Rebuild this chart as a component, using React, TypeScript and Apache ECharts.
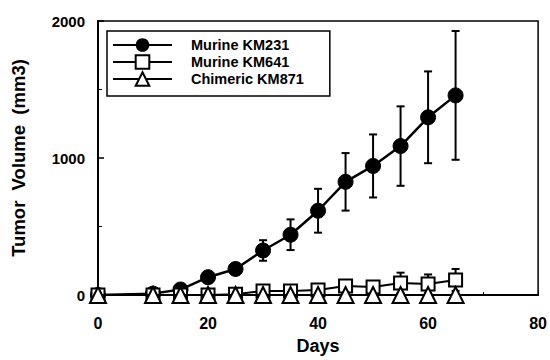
import React, { useEffect, useRef } from "react";
import * as echarts from "echarts";

const days = [0, 10, 15, 20, 25, 30, 35, 40, 45, 50, 55, 60, 65];
const km231 = [0, 10, 40, 130, 190, 325, 440, 615, 826, 942, 1087, 1297, 1457];
const km231Err = [0, 0, 10, 25, 40, 75, 112, 160, 210, 230, 290, 335, 470];
const km641 = [0, 0, 0, 0, 5, 30, 30, 36, 66, 58, 88, 80, 110];
const km641Err = [0, 0, 0, 0, 0, 0, 0, 0, 0, 0, 75, 70, 80];
const km871 = [0, 0, 0, 0, 0, 0, 0, 0, 0, 0, 0, 0, 0];
const seriesNames = ["Murine KM231", "Murine KM641", "Chimeric KM871"];
const xTicks = [0, 20, 40, 60, 80];
const yTicks = [0, 1000, 2000];

const FONT = "Liberation Sans, Arial, sans-serif";

function errData(vals: number[], errs: number[]) {
  return days
    .map((d, i) => [d, vals[i] - errs[i], vals[i] + errs[i], errs[i]])
    .filter((r) => r[3] > 0);
}

function errRender(params: any, api: any) {
  const x = api.value(0);
  const lo = api.coord([x, api.value(1)]);
  const hi = api.coord([x, api.value(2)]);
  const cap = 4;
  const style = { stroke: "#000", lineWidth: 2 };
  return {
    type: "group",
    children: [
      { type: "line", shape: { x1: lo[0], y1: lo[1], x2: hi[0], y2: hi[1] }, style },
      { type: "line", shape: { x1: hi[0] - cap, y1: hi[1], x2: hi[0] + cap, y2: hi[1] }, style },
      { type: "line", shape: { x1: lo[0] - cap, y1: lo[1], x2: lo[0] + cap, y2: lo[1] }, style },
    ],
  };
}

export default function App() {
  const ref = useRef<HTMLDivElement>(null);
  useEffect(() => {
    if (!ref.current) return;
    const chart = echarts.init(ref.current, undefined, { renderer: "svg" });
    chart.setOption({
      animation: false,
      backgroundColor: "#fff",
      grid: {
        left: 98,
        right: 9,
        top: 21,
        bottom: 63,
        show: true,
        borderColor: "#000",
        borderWidth: 1.5,
        backgroundColor: "transparent",
      },
      legend: {
        orient: "vertical",
        left: 107,
        top: 31,
        itemWidth: 59,
        itemHeight: 17,
        itemGap: 1,
        padding: [6, 26, 9, 5],
        borderColor: "#000",
        borderWidth: 1.5,
        backgroundColor: "#fff",
        data: seriesNames,
        textStyle: {
          fontFamily: FONT,
          fontWeight: "bold",
          fontSize: 14.5,
          lineHeight: 16,
          color: "#000",
          padding: [0, 0, 0, 14],
        },
      },
      xAxis: {
        type: "value",
        min: 0,
        max: 80,
        interval: 20,
        name: "Days",
        nameLocation: "middle",
        nameGap: 42,
        nameTextStyle: { fontFamily: FONT, fontWeight: "bold", fontSize: 18, color: "#000" },
        axisLine: { lineStyle: { color: "#000", width: 2 } },
        axisTick: { inside: true, length: 4, lineStyle: { color: "#000" } },
        minorTick: { show: true, splitNumber: 2, length: 3, lineStyle: { color: "#000" } },
        splitLine: { show: false },
        axisLabel: {
          margin: 20,
          fontFamily: FONT,
          fontWeight: "bold",
          fontSize: 16,
          color: "#000",
          customValues: xTicks,
          formatter: (v: number) => String(v),
        },
      },
      yAxis: {
        type: "value",
        min: 0,
        max: 2000,
        interval: 1000,
        name: "Tumor  Volume  (mm3)",
        nameLocation: "middle",
        nameGap: 70,
        nameTextStyle: { fontFamily: FONT, fontWeight: "bold", fontSize: 18.5, color: "#000" },
        axisLine: { lineStyle: { color: "#000", width: 2 } },
        axisTick: { inside: true, length: 6, lineStyle: { color: "#000", width: 1.5 } },
        minorTick: { show: true, splitNumber: 2, length: 4, lineStyle: { color: "#000" } },
        splitLine: { show: false },
        axisLabel: {
          margin: 13,
          fontFamily: FONT,
          fontWeight: "bold",
          fontSize: 15,
          color: "#000",
          customValues: yTicks,
          formatter: (v: number) => String(v),
        },
      },
      series: [
        {
          type: "custom",
          name: "err231",
          renderItem: errRender,
          data: errData(km231, km231Err),
          z: 1,
          silent: true,
        },
        {
          type: "line",
          name: seriesNames[0],
          data: days.map((d, i) => [d, km231[i]]),
          symbol: "circle",
          symbolSize: 15,
          lineStyle: { color: "#000", width: 2.5 },
          itemStyle: { color: "#000", borderColor: "#000" },
          z: 2,
        },
        {
          type: "custom",
          name: "err641",
          renderItem: errRender,
          data: errData(km641, km641Err),
          z: 3,
          silent: true,
        },
        {
          type: "line",
          name: seriesNames[1],
          data: days.map((d, i) => [d, km641[i]]),
          symbol: "rect",
          symbolSize: 13,
          lineStyle: { color: "#000", width: 2 },
          itemStyle: { color: "#fff", borderColor: "#000", borderWidth: 2 },
          z: 4,
        },
        {
          type: "line",
          name: seriesNames[2],
          data: days.map((d, i) => [d, km871[i]]),
          symbol: "triangle",
          symbolSize: 16,
          lineStyle: { color: "#000", width: 2 },
          itemStyle: { color: "#fff", borderColor: "#000", borderWidth: 2 },
          z: 5,
        },
      ],
    });
    return () => chart.dispose();
  }, []);
  return <div ref={ref} style={{ width: 550, height: 360, position: "absolute", left: 0, top: 0 }} />;
}
